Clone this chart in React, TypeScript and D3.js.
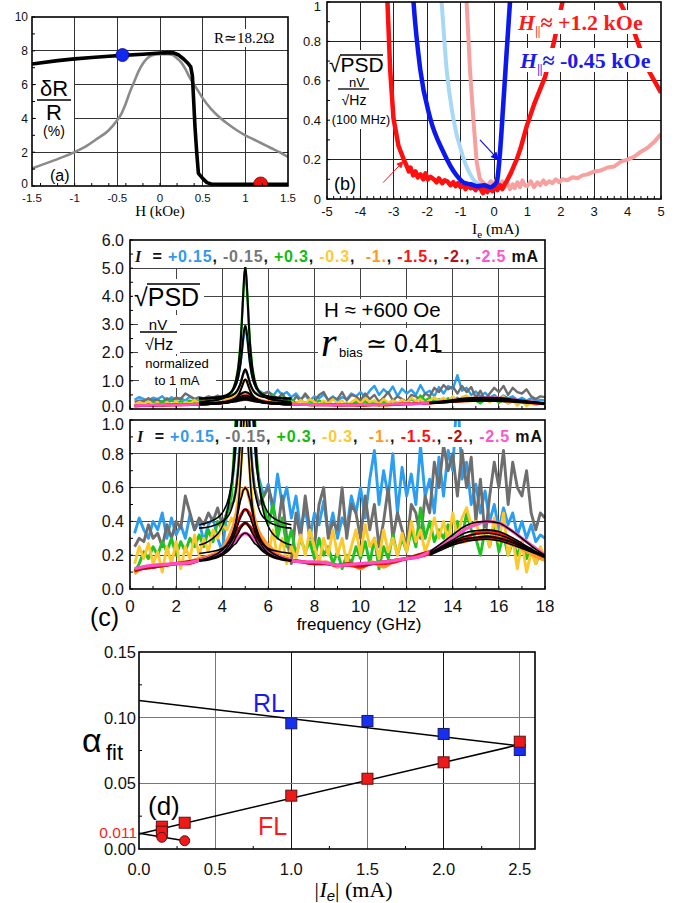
import React from 'react';
import * as d3 from 'd3';

const SANS = "'Liberation Sans', Arial, Helvetica, sans-serif";
const SERIF = "'Liberation Serif', 'Times New Roman', Times, serif";

// ================= Panel (a): dR/R (%) vs H (kOe) =================
const aXTicks = [-1.5, -1, -0.5, 0, 0.5, 1, 1.5];
const aYTicks = [0, 2, 4, 6, 8, 10];
const aBlack = [[-1.5, 7.22], [-1.2, 7.42], [-1.0, 7.52], [-0.8, 7.6], [-0.6, 7.68], [-0.44, 7.73], [-0.2, 7.8], [0, 7.87], [0.1, 7.89], [0.16, 7.88], [0.22, 7.75], [0.28, 7.5], [0.33, 7.25], [0.36, 7.05], [0.38, 6.5], [0.39, 5.5], [0.41, 3.5], [0.43, 2.0], [0.45, 0.75], [0.5, 0.45], [0.55, 0.2], [0.6, 0.12], [0.8, 0.1], [1.0, 0.1], [1.5, 0.1]];
const aGray = [[-1.5, 1.04], [-1.25, 1.5], [-1.0, 2.0], [-0.85, 2.4], [-0.75, 2.75], [-0.6, 3.3], [-0.5, 3.9], [-0.45, 4.3], [-0.4, 4.9], [-0.35, 5.6], [-0.3, 6.2], [-0.25, 6.8], [-0.2, 7.25], [-0.15, 7.55], [-0.1, 7.72], [0, 7.8], [0.1, 7.8], [0.15, 7.75], [0.2, 7.55], [0.25, 7.3], [0.3, 6.9], [0.35, 6.4], [0.4, 6.0], [0.45, 5.6], [0.5, 5.2], [0.6, 4.55], [0.7, 4.05], [0.8, 3.65], [0.9, 3.3], [1.0, 3.0], [1.1, 2.75], [1.2, 2.5], [1.3, 2.25], [1.4, 2.0], [1.5, 1.72]];
const aBlueDot = [-0.44, 7.75];
const aRedDot = [1.18, 0.12];

// ================= Panel (b): sqrt(PSD) vs Ie =================
const bXTicks = [-5, -4, -3, -2, -1, 0, 1, 2, 3, 4, 5];
const bYTicks = [0, 0.2, 0.4, 0.6, 0.8, 1];
const bPink = [[-0.85, 1.1], [-0.82, 1.0], [-0.72, 0.66], [-0.62, 0.41], [-0.52, 0.19], [-0.42, 0.1], [-0.3, 0.08], [-0.2, 0.065], [-0.1, 0.09], [0, 0.075], [0.08, 0.1], [0.15, 0.07], [0.25, 0.09], [0.32, 0.06], [0.4, 0.08], [0.48, 0.05], [0.56, 0.075], [0.62, 0.055], [0.7, 0.085], [0.78, 0.06], [0.85, 0.095], [0.92, 0.07], [1.0, 0.065], [1.1, 0.09], [1.2, 0.06], [1.3, 0.085], [1.38, 0.07], [1.48, 0.095], [1.55, 0.075], [1.65, 0.09], [1.75, 0.08], [1.85, 0.1], [1.95, 0.085], [2.05, 0.1], [2.2, 0.095], [2.35, 0.11], [2.5, 0.105], [2.65, 0.12], [2.8, 0.125], [3.0, 0.14], [3.2, 0.145], [3.4, 0.16], [3.6, 0.165], [3.8, 0.19], [4.0, 0.2], [4.2, 0.215], [4.4, 0.24], [4.6, 0.26], [4.8, 0.29], [5.0, 0.33]];
const bLightBlue = [[-1.62, 1.1], [-1.57, 1.0], [-1.42, 0.66], [-1.22, 0.41], [-0.92, 0.21], [-0.62, 0.1], [-0.4, 0.07], [-0.2, 0.06], [0, 0.06], [0.1, 0.08], [0.2, 0.25], [0.3, 0.5], [0.4, 0.8], [0.46, 1.0], [0.5, 1.1]];
const bRed = [[-3.25, 1.1], [-3.19, 1.0], [-3.11, 0.66], [-3.01, 0.41], [-2.86, 0.27], [-2.7, 0.2], [-2.62, 0.17], [-2.55, 0.14], [-2.5, 0.16], [-2.42, 0.12], [-2.35, 0.14], [-2.28, 0.11], [-2.2, 0.125], [-2.12, 0.1], [-2.05, 0.13], [-1.98, 0.1], [-1.9, 0.112], [-1.8, 0.1], [-1.72, 0.085], [-1.65, 0.105], [-1.55, 0.08], [-1.48, 0.095], [-1.4, 0.09], [-1.3, 0.07], [-1.22, 0.085], [-1.15, 0.065], [-1.08, 0.08], [-1.0, 0.06], [-0.92, 0.07], [-0.85, 0.05], [-0.78, 0.075], [-0.7, 0.055], [-0.62, 0.06], [-0.55, 0.045], [-0.48, 0.065], [-0.4, 0.05], [-0.33, 0.03], [-0.26, 0.06], [-0.2, 0.035], [-0.12, 0.055], [-0.05, 0.04], [0.02, 0.065], [0.1, 0.045], [0.18, 0.07], [0.25, 0.05], [0.32, 0.075], [0.38, 0.09], [0.5, 0.13], [0.6, 0.17], [0.68, 0.2], [0.8, 0.26], [0.98, 0.37], [1.2, 0.48], [1.53, 0.62], [1.8, 0.8], [2.05, 1.0], [2.5, 1.3], [3.0, 1.4], [3.5, 1.2], [3.77, 1.0], [4.17, 0.86], [4.57, 0.67], [5.0, 0.54]];
const bBlue = [[-2.45, 1.1], [-2.41, 1.0], [-2.21, 0.66], [-1.91, 0.41], [-1.52, 0.24], [-1.12, 0.12], [-0.87, 0.08], [-0.7, 0.075], [-0.5, 0.065], [-0.3, 0.07], [-0.1, 0.06], [0, 0.07], [0.08, 0.085], [0.18, 0.24], [0.28, 0.49], [0.38, 0.75], [0.48, 1.0], [0.52, 1.1]];
const bRedArrow = [[-3.32, 0.083], [-2.72, 0.19]];
const bBlueArrow = [[-0.42, 0.3], [0.13, 0.2]];

// ================= Panel (c): sqrt(PSD) spectra =================
const cXTicks = [0, 2, 4, 6, 8, 10, 12, 14, 16, 18];
const cYTicksTop = [0, 1, 2, 3, 4, 5, 6];
const cYTicksBot = [0, 0.2, 0.4, 0.6, 0.8, 1.0];
const freqN = [0.2, 0.4, 0.6, 0.8, 1.0, 1.2, 1.4, 1.6, 1.8, 2.0, 2.2, 2.4, 2.6, 2.8, 3.0, 3.2, 3.4, 3.6, 3.8, 4.0, 4.2, 4.4, 4.5, 4.6, 4.7, 4.8, 4.9, 5.0, 5.1, 5.2, 5.3, 5.4, 5.5, 5.6, 5.8, 6.0, 6.2, 6.4, 6.6, 6.8, 7.0, 7.2, 7.4, 7.6, 7.8, 8.0, 8.2, 8.4, 8.6, 8.8, 9.0, 9.2, 9.4, 9.6, 9.8, 10.0, 10.2, 10.4, 10.6, 10.8, 11.0, 11.2, 11.4, 11.6, 11.8, 12.0, 12.2, 12.4, 12.6, 12.8, 13.0, 13.2, 13.4, 13.6, 13.8, 14.0, 14.2, 14.4, 14.6, 14.8, 15.0, 15.2, 15.4, 15.6, 15.8, 16.0, 16.2, 16.4, 16.6, 16.8, 17.0, 17.2, 17.4, 17.6, 17.8, 18.0];
const psdP015 = [0.33, 0.42, 0.35, 0.3, 0.4, 0.35, 0.45, 0.3, 0.42, 0.32, 0.38, 0.3, 0.44, 0.35, 0.4, 0.28, 0.38, 0.42, 0.3, 0.22, 0.45, 0.6,
  0.72, 0.88, 1.15, 1.65, 2.4, 2.95, 2.45, 1.65, 1.15, 0.9, 0.72, 0.65,
  0.55, 0.62, 0.45, 0.68, 0.5, 0.6, 0.42, 0.55, 0.35, 0.48, 0.3, 0.45, 0.38, 0.52, 0.32, 0.45, 0.3, 0.42, 0.35, 0.55,
  0.45, 0.6, 0.42, 0.65, 0.82, 0.5, 0.7, 0.55, 0.8, 0.45, 0.72, 0.55, 0.68, 0.5, 0.85, 0.55, 0.65, 0.45, 0.78, 0.55,
  0.82, 0.7, 1.2, 0.65, 0.75, 0.5, 0.62, 0.45, 0.58, 0.4, 0.5, 0.35, 0.48, 0.38, 0.45, 0.32, 0.4, 0.3, 0.38, 0.28, 0.32, 0.3];
const psdM015 = [0.25, 0.3, 0.28, 0.38, 0.3, 0.33, 0.25, 0.38, 0.3, 0.4, 0.36, 0.55, 0.45, 0.35, 0.42, 0.38, 0.45, 0.4, 0.48, 0.38, 0.45, 0.5,
  0.52, 0.59, 0.72, 0.92, 1.22, 1.4, 1.22, 0.92, 0.72, 0.6, 0.55, 0.5,
  0.55, 0.6, 0.5, 0.35, 0.55, 0.3, 0.15, 0.45, 0.3, 0.55, 0.35, 0.25, 0.5, 0.6, 0.3, 0.4, 0.35, 0.6, 0.3, 0.5,
  0.45, 0.3, 0.55, 0.35, 0.5, 0.25, 0.4, 0.6, 0.3, 0.45, 0.35, 0.25, 0.5, 0.45, 0.3, 0.55, 0.45, 0.75, 0.6, 0.85,
  0.7, 0.8, 0.55, 0.82, 0.6, 0.78, 0.4, 0.65, 0.3, 0.55, 0.75, 0.6, 0.82, 0.5, 0.75, 0.6, 0.55, 0.7, 0.45, 0.35, 0.45, 0.42];
const psdP03 = [0.1, 0.15, 0.22, 0.18, 0.25, 0.2, 0.28, 0.22, 0.3, 0.2, 0.28, 0.22, 0.3, 0.25, 0.32, 0.25, 0.35, 0.28, 0.4, 0.35, 0.45, 0.55,
  0.77, 1.03, 1.5, 2.38, 3.91, 5.05, 3.91, 2.38, 1.5, 1.03, 0.77, 0.62,
  0.5, 0.38, 0.5, 0.3, 0.42, 0.25, 0.35, 0.2, 0.3, 0.22, 0.28, 0.18, 0.3, 0.2, 0.25, 0.15, 0.22, 0.12, 0.2, 0.15,
  0.25, 0.18, 0.28, 0.15, 0.3, 0.12, 0.25, 0.18, 0.32, 0.2, 0.3, 0.22, 0.35, 0.25, 0.48, 0.3, 0.4, 0.28, 0.35, 0.3,
  0.38, 0.25, 0.4, 0.3, 0.45, 0.35, 0.3, 0.2, 0.35, 0.25, 0.38, 0.22, 0.32, 0.2, 0.28, 0.2, 0.28, 0.18, 0.24, 0.15, 0.22, 0.18];
const psdM03 = [0.15, 0.25, 0.18, 0.27, 0.15, 0.22, 0.1, 0.25, 0.15, 0.28, 0.12, 0.25, 0.18, 0.32, 0.2, 0.3, 0.22, 0.35, 0.3, 0.38, 0.35, 0.42,
  0.4, 0.45, 0.55, 0.7, 0.9, 1.05, 0.9, 0.68, 0.52, 0.42, 0.36, 0.32,
  0.3, 0.2, 0.35, 0.18, 0.3, 0.15, 0.25, 0.18, 0.32, 0.2, 0.35, 0.25, 0.15, 0.3, 0.2, 0.35, 0.2, 0.3, 0.15, 0.25,
  0.35, 0.2, 0.38, 0.25, 0.3, 0.18, 0.35, 0.22, 0.3, 0.2, 0.33, 0.22, 0.4, 0.28, 0.35, 0.22, 0.3, 0.42, 0.3, 0.4,
  0.28, 0.45, 0.3, 0.42, 0.48, 0.38, 0.4, 0.3, 0.35, 0.25, 0.42, 0.28, 0.45, 0.2, 0.3, 0.12, 0.28, 0.1, 0.22, 0.15, 0.25, 0.18];
const freqS = [0.2, 0.5, 1, 1.5, 2, 2.5, 3, 3.5, 4, 4.25, 4.5, 4.75, 5, 5.25, 5.5, 5.75, 6, 6.5, 7, 7.5, 8, 8.5, 9, 9.5, 10, 10.5, 11, 11.5, 12, 12.5, 13, 13.5, 14, 14.5, 15, 15.5, 16, 16.5, 17, 17.5, 18];
const psdM1 = [0.09, 0.12, 0.13, 0.14, 0.15, 0.16, 0.18, 0.2, 0.24, 0.3, 0.38, 0.52, 0.6, 0.5, 0.37, 0.3, 0.26, 0.2, 0.17, 0.16, 0.15, 0.16, 0.13, 0.15, 0.12, 0.16, 0.13, 0.17, 0.18, 0.2, 0.22, 0.24, 0.27, 0.28, 0.3, 0.31, 0.3, 0.27, 0.24, 0.2, 0.17];
const psdM15 = [0.11, 0.12, 0.13, 0.14, 0.15, 0.15, 0.17, 0.19, 0.22, 0.27, 0.33, 0.42, 0.47, 0.43, 0.33, 0.27, 0.23, 0.19, 0.17, 0.16, 0.15, 0.15, 0.14, 0.14, 0.13, 0.15, 0.15, 0.16, 0.18, 0.19, 0.21, 0.24, 0.27, 0.3, 0.33, 0.34, 0.33, 0.3, 0.26, 0.22, 0.19];
const psdM2 = [0.11, 0.12, 0.13, 0.14, 0.15, 0.16, 0.17, 0.19, 0.22, 0.26, 0.31, 0.36, 0.39, 0.36, 0.3, 0.26, 0.22, 0.19, 0.17, 0.16, 0.15, 0.15, 0.14, 0.15, 0.14, 0.15, 0.16, 0.17, 0.18, 0.2, 0.22, 0.24, 0.27, 0.29, 0.3, 0.31, 0.3, 0.28, 0.25, 0.22, 0.19];
const psdM25 = [0.12, 0.13, 0.14, 0.145, 0.15, 0.155, 0.17, 0.19, 0.22, 0.25, 0.28, 0.31, 0.33, 0.31, 0.28, 0.25, 0.22, 0.19, 0.17, 0.16, 0.16, 0.155, 0.14, 0.145, 0.15, 0.155, 0.16, 0.17, 0.18, 0.19, 0.22, 0.26, 0.3, 0.35, 0.38, 0.4, 0.39, 0.35, 0.3, 0.25, 0.2];
// Lorentzian fits
const fitF5 = [3, 3.5, 4, 4.3, 4.5, 4.6, 4.7, 4.8, 4.85, 4.9, 4.95, 5, 5.05, 5.1, 5.15, 5.2, 5.3, 5.4, 5.5, 5.7, 6, 6.5, 7];
const fit5P03 = [0.26, 0.29, 0.37, 0.52, 0.77, 1.03, 1.5, 2.38, 3.07, 3.91, 4.7, 5.05, 4.7, 3.91, 3.07, 2.38, 1.5, 1.03, 0.77, 0.52, 0.37, 0.29, 0.26];
const fit5P015 = [0.38, 0.4, 0.45, 0.55, 0.71, 0.87, 1.15, 1.65, 2.01, 2.43, 2.8, 2.95, 2.8, 2.43, 2.01, 1.65, 1.15, 0.87, 0.71, 0.55, 0.45, 0.4, 0.38];
const fit5M015 = [0.36, 0.37, 0.4, 0.44, 0.52, 0.59, 0.72, 0.92, 1.07, 1.22, 1.35, 1.4, 1.35, 1.22, 1.07, 0.92, 0.72, 0.59, 0.52, 0.44, 0.4, 0.37, 0.36];
const fit5M03 = [0.21, 0.22, 0.24, 0.28, 0.34, 0.4, 0.5, 0.67, 0.78, 0.9, 1.01, 1.05, 1.01, 0.9, 0.78, 0.67, 0.5, 0.4, 0.34, 0.28, 0.24, 0.22, 0.21];
const fit5M1 = [0.17, 0.19, 0.23, 0.28, 0.35, 0.4, 0.46, 0.53, 0.55, 0.58, 0.59, 0.6, 0.59, 0.58, 0.55, 0.53, 0.46, 0.4, 0.35, 0.28, 0.23, 0.19, 0.17];
const fit5M15 = [0.17, 0.18, 0.21, 0.26, 0.31, 0.35, 0.39, 0.43, 0.44, 0.46, 0.47, 0.47, 0.47, 0.46, 0.44, 0.43, 0.39, 0.35, 0.31, 0.26, 0.21, 0.18, 0.17];
const fit5M2 = [0.17, 0.18, 0.21, 0.24, 0.28, 0.31, 0.33, 0.36, 0.37, 0.38, 0.39, 0.39, 0.39, 0.38, 0.37, 0.36, 0.33, 0.31, 0.28, 0.24, 0.21, 0.18, 0.17];
const fit5M25 = [0.165, 0.175, 0.2, 0.23, 0.26, 0.27, 0.29, 0.31, 0.32, 0.325, 0.33, 0.33, 0.33, 0.325, 0.32, 0.31, 0.29, 0.27, 0.26, 0.23, 0.2, 0.175, 0.165];
const fitF15 = [13, 13.5, 14, 14.5, 15, 15.5, 16, 16.5, 17, 17.5, 18];
const fit15M25 = [0.22, 0.27, 0.32, 0.37, 0.395, 0.4, 0.39, 0.35, 0.3, 0.245, 0.2];
const fit15M15 = [0.21, 0.25, 0.29, 0.33, 0.345, 0.35, 0.34, 0.31, 0.27, 0.23, 0.195];
const fit15M2 = [0.21, 0.245, 0.28, 0.31, 0.325, 0.33, 0.32, 0.295, 0.26, 0.225, 0.19];
const fit15M1 = [0.205, 0.24, 0.27, 0.295, 0.305, 0.31, 0.3, 0.28, 0.25, 0.22, 0.19];
const fit15M03 = [0.2, 0.23, 0.26, 0.28, 0.29, 0.295, 0.285, 0.265, 0.24, 0.215, 0.19];
const legendLabels = ['+0.15', '-0.15', '+0.3', '-0.3', '-1.', '-1.5.', '-2.', '-2.5'];

// ================= Panel (d): alpha_fit vs |Ie| =================
const dXTicks = [0, 0.5, 1.0, 1.5, 2.0, 2.5];
const dXMinor = [0.25, 0.75, 1.25, 1.75, 2.25];
const dYTicks = [0, 0.05, 0.1, 0.15];
const dYMinor = [0.025, 0.075, 0.125];
const rlI = [1.0, 1.5, 2.0, 2.5];
const rlAlpha = [0.0957, 0.0975, 0.0876, 0.0754];
const flI = [0.15, 0.15, 0.3, 1.0, 1.5, 2.0, 2.5];
const flAlpha = [0.017, 0.0132, 0.02, 0.0406, 0.0535, 0.066, 0.0817];
const circI = [0.15, 0.3];
const circAlpha = [0.0089, 0.0063];
const rlFit = [[0, 0.113], [2.5, 0.0785]];
const flFit = [[0, 0.0115], [2.5, 0.0795]];
const circFit = [[0, 0.012], [0.3, 0.0063]];

const COL = {
  p015: '#2c9ef2', m015: '#6e6e6e', p03: '#1fc21f', m03: '#fdc82e',
  m1: '#ff9a28', m15: '#ff1414', m2: '#b20f0f', m25: '#ff4fc2',
};
const legendColors = ['#3399ee', '#777777', '#11bb11', '#ffc933', '#ff9922', '#ff1111', '#b81111', '#ff55cc'];

type Sc = d3.ScaleLinear<number, number>;

function Grid({ x, y, xs, ys, top, color = '#444' }: { x: Sc; y: Sc; xs: number[]; ys: number[]; top?: number; color?: string }) {
  const [x0, x1] = x.range();
  const [y0, y1] = y.range();
  const t = top ?? y1;
  return (
    <g shapeRendering="crispEdges">
      {xs.map((v) => <line key={'gx' + v} x1={x(v)} x2={x(v)} y1={y0} y2={t} stroke={color} strokeWidth={1} />)}
      {ys.map((v) => <line key={'gy' + v} x1={x0} x2={x1} y1={y(v)} y2={y(v)} stroke={color} strokeWidth={1} />)}
    </g>
  );
}

function Border({ x, y, xMinor = [], yMinor = [] }: { x: Sc; y: Sc; xMinor?: number[]; yMinor?: number[] }) {
  const [x0, x1] = x.range();
  const [y0, y1] = y.range();
  return (
    <g>
      {xMinor.map((v) => <line key={'mx' + v} x1={x(v)} x2={x(v)} y1={y0} y2={y0 - 3} stroke="#000" />)}
      {yMinor.map((v) => <line key={'my' + v} x1={x0} x2={x0 + 3} y1={y(v)} y2={y(v)} stroke="#000" />)}
      <rect x={x0} y={y1} width={x1 - x0} height={y0 - y1} fill="none" stroke="#000" strokeWidth={1.6} />
    </g>
  );
}

function XLabels({ x, ticks, yPos, fs, fmt }: { x: Sc; ticks: number[]; yPos: number; fs: number; fmt: (v: number) => string }) {
  return (
    <g fontFamily={SANS} fontSize={fs} textAnchor="middle" fill="#111">
      {ticks.map((v) => <text key={'xl' + v} x={x(v)} y={yPos}>{fmt(v)}</text>)}
    </g>
  );
}

function YLabels({ y, ticks, xPos, fs, fmt, topShift = 0, bottomShift = 0 }: { y: Sc; ticks: number[]; xPos: number; fs: number; fmt: (v: number) => string; topShift?: number; bottomShift?: number }) {
  const top = d3.max(ticks) as number;
  const bot = d3.min(ticks) as number;
  return (
    <g fontFamily={SANS} fontSize={fs} textAnchor="end" fill="#111">
      {ticks.map((v) => (
        <text key={'yl' + v} x={xPos} y={y(v) + (v === top ? topShift : 0) + (v === bot ? bottomShift : 0)} dy="0.36em">{fmt(v)}</text>
      ))}
    </g>
  );
}

function Legend({ x, y, len }: { x: number; y: number; len: number }) {
  const parts: React.ReactNode[] = [];
  legendLabels.forEach((t, i) => {
    parts.push(<tspan key={'l' + i} fill={legendColors[i]}>{t}</tspan>);
    if (i < legendLabels.length - 1) parts.push(<tspan key={'c' + i} fill="#111">{i === 3 ? ',  ' : ', '}</tspan>);
  });
  return (
    <g>
      <rect x={x - 3} y={y - 15} width={len + 7} height={20} fill="#fff" />
      <text x={x} y={y} fontFamily={SANS} fontWeight="bold" fontSize={16} textLength={len} lengthAdjust="spacing" style={{ whiteSpace: 'pre' }}>
        <tspan fontFamily={SERIF} fontStyle="italic" fill="#111">I</tspan>
        <tspan fill="#111">{'  = '}</tspan>
        {parts}
        <tspan fill="#111">{' mA'}</tspan>
      </text>
    </g>
  );
}

export default function App() {
  const xA = d3.scaleLinear().domain([-1.5, 1.5]).range([32, 288]);
  const yA = d3.scaleLinear().domain([0, 10]).range([186, 17]);
  const xB = d3.scaleLinear().domain([-5, 5]).range([327, 661]);
  const yB = d3.scaleLinear().domain([0, 1]).range([199, 2]);
  const xC = d3.scaleLinear().domain([0, 18]).range([130, 545]);
  const yC1 = d3.scaleLinear().domain([0, 6]).range([409, 240]);
  const yC2 = d3.scaleLinear().domain([0, 1]).range([589, 420]);
  const xD = d3.scaleLinear().domain([0, 2.6]).range([139, 535]);
  const yD = d3.scaleLinear().domain([0, 0.15]).range([849, 652]);

  const mk = (x: Sc, y: Sc, curve: d3.CurveFactory = d3.curveLinear) =>
    d3.line<number[]>().x((d) => x(d[0])).y((d) => y(d[1])).curve(curve);

  const noisy = [
    { v: psdP015, c: COL.p015 },
    { v: psdM015, c: COL.m015 },
    { v: psdP03, c: COL.p03 },
    { v: psdM03, c: COL.m03 },
  ];
  const smooth = [
    { v: psdM1, c: COL.m1 },
    { v: psdM15, c: COL.m15 },
    { v: psdM2, c: COL.m2 },
    { v: psdM25, c: COL.m25 },
  ];
  const fits5 = [fit5P03, fit5P015, fit5M015, fit5M03, fit5M1, fit5M15, fit5M2, fit5M25];
  const fits15 = [fit15M25, fit15M15, fit15M2, fit15M1, fit15M03];

  const fmt1 = d3.format('.1f');
  const fmt2 = d3.format('.2f');

  const cPanel = (y: Sc, clip: string, fitW: number, lw: number) => {
    const ln = mk(xC, y);
    const ls = mk(xC, y, d3.curveMonotoneX);
    return (
      <g clipPath={`url(#${clip})`}>
        {noisy.map((s, i) => (
          <path key={'n' + i} d={ln(d3.zip(freqN, s.v)) || ''} fill="none" stroke={s.c} strokeWidth={lw} strokeLinejoin="round" />
        ))}
        {smooth.map((s, i) => (
          <path key={'s' + i} d={ls(d3.zip(freqS, s.v)) || ''} fill="none" stroke={s.c} strokeWidth={lw + 0.4} strokeLinejoin="round" />
        ))}
        {fits5.map((f, i) => (
          <path key={'f5' + i} d={ls(d3.zip(fitF5, f)) || ''} fill="none" stroke="#000" strokeWidth={fitW} />
        ))}
        {fits15.map((f, i) => (
          <path key={'f15' + i} d={ls(d3.zip(fitF15, f)) || ''} fill="none" stroke="#000" strokeWidth={fitW} />
        ))}
      </g>
    );
  };

  const lineA = mk(xA, yA);
  const lineAs = mk(xA, yA, d3.curveMonotoneX);
  const lineB = mk(xB, yB);
  const lineBs = mk(xB, yB, d3.curveMonotoneX);
  const lineD = mk(xD, yD);

  return (
    <svg width={683} height={903} viewBox="0 0 683 903" style={{ position: 'absolute', left: 0, top: 0, background: '#fff' }}>
      <defs>
        <clipPath id="clipA"><rect x={32} y={17} width={256} height={169} /></clipPath>
        <clipPath id="clipB"><rect x={327} y={2} width={334} height={197} /></clipPath>
        <clipPath id="clipC1"><rect x={130} y={240} width={415} height={169} /></clipPath>
        <clipPath id="clipC2"><rect x={130} y={420} width={415} height={169} /></clipPath>
        <marker id="arrRed" viewBox="0 0 10 10" refX={9} refY={5} markerUnits="userSpaceOnUse" markerWidth={9} markerHeight={7} orient="auto">
          <path d="M0,0L10,5L0,10z" fill="#ff1a1a" />
        </marker>
        <marker id="arrBlue" viewBox="0 0 10 10" refX={9} refY={5} markerUnits="userSpaceOnUse" markerWidth={11} markerHeight={8} orient="auto">
          <path d="M0,0L10,5L0,10z" fill="#1010ee" />
        </marker>
      </defs>
      <rect x={0} y={0} width={683} height={903} fill="#fff" />

      {/* ================= (a) ================= */}
      <Grid x={xA} y={yA} xs={[-1, -0.5, 0, 0.5, 1]} ys={[2, 4, 6, 8]} color="#333" />
      <rect x={36} y={78} width={38} height={61} fill="#fff" />
      <rect x={210} y={29} width={73} height={18} fill="#fff" />
      <g clipPath="url(#clipA)">
        <path d={lineAs(aGray) || ''} fill="none" stroke="#8a8a8a" strokeWidth={2.6} />
        <path d={lineA(aBlack) || ''} fill="none" stroke="#000" strokeWidth={3.6} strokeLinejoin="round" />
        <circle cx={xA(aBlueDot[0])} cy={yA(aBlueDot[1])} r={6.5} fill="#1426f2" stroke="#0a0a80" strokeWidth={0.8} />
        <circle cx={xA(aRedDot[0])} cy={yA(aRedDot[1])} r={7} fill="#ee1111" stroke="#800" strokeWidth={0.8} />
      </g>
      <Border x={xA} y={yA} xMinor={xA.ticks(12)} yMinor={yA.ticks(10)} />
      <YLabels y={yA} ticks={aYTicks} xPos={28} fs={12} fmt={(v) => String(v)} bottomShift={-2} />
      <XLabels x={xA} ticks={aXTicks} yPos={202} fs={11.5} fmt={(v) => String(v)} />
      <text x={160} y={216} textAnchor="middle" fontFamily={SERIF} fontSize={15}>H (kOe)</text>
      <text x={214} y={43} fontFamily={SERIF} fontSize={15}>R≃18.2Ω</text>
      <text x={54} y={96} textAnchor="middle" fontFamily={SANS} fontSize={22}>δR</text>
      <line x1={37} x2={71} y1={100} y2={100} stroke="#000" strokeWidth={1.5} />
      <text x={54} y={120} textAnchor="middle" fontFamily={SANS} fontSize={22}>R</text>
      <text x={54} y={136} textAnchor="middle" fontFamily={SANS} fontSize={14}>(%)</text>
      <text x={50} y={181} fontFamily={SANS} fontSize={16}>(a)</text>

      {/* ================= (b) ================= */}
      <Grid x={xB} y={yB} xs={[-4, -3, -2, -1, 0, 1, 2, 3, 4]} ys={[0.2, 0.4, 0.6, 0.8]} color="#222" />
      <rect x={328} y={50} width={64} height={79} fill="#fff" />
      <text x={329} y={72} fontFamily={SANS} fontSize={21}>√PSD</text>
      <line x1={340} x2={383} y1={55} y2={55} stroke="#000" strokeWidth={1.5} />
      <text x={357} y={87} textAnchor="middle" fontFamily={SANS} fontSize={13}>nV</text>
      <line x1={338} x2={369} y1={89} y2={89} stroke="#000" strokeWidth={1.3} />
      <text x={354} y={105} textAnchor="middle" fontFamily={SANS} fontSize={14}>√Hz</text>
      <text x={361} y={124} textAnchor="middle" fontFamily={SANS} fontSize={12.5}>(100 MHz)</text>
      <g clipPath="url(#clipB)">
        <path d={lineB(bPink) || ''} fill="none" stroke="#f7a0a0" strokeWidth={4} strokeLinejoin="round" />
        <path d={lineBs(bLightBlue) || ''} fill="none" stroke="#a8d8f6" strokeWidth={4} />
        <path d={lineB(bRed) || ''} fill="none" stroke="#ff1010" strokeWidth={4.5} strokeLinejoin="round" />
        <path d={lineBs(bBlue) || ''} fill="none" stroke="#0c18ee" strokeWidth={4.5} />
      </g>
      <line x1={xB(bRedArrow[0][0])} y1={yB(bRedArrow[0][1])} x2={xB(bRedArrow[1][0])} y2={yB(bRedArrow[1][1])} stroke="#ff1a1a" strokeWidth={1} markerEnd="url(#arrRed)" />
      <line x1={xB(bBlueArrow[0][0])} y1={yB(bBlueArrow[0][1])} x2={xB(bBlueArrow[1][0])} y2={yB(bBlueArrow[1][1])} stroke="#1010ee" strokeWidth={1.2} markerEnd="url(#arrBlue)" />
      <rect x={514} y={10} width={140} height={24} fill="#fff" />
      <rect x={516} y={48} width={142} height={24} fill="#fff" />
      <text x={518} y={30} fontFamily={SERIF} fontWeight="bold" fontSize={22} fill="#ff1a1a">
        <tspan fontStyle="italic">H</tspan><tspan fontSize={12} dy={5}>||</tspan><tspan dy={-5}>≈ +1.2 kOe</tspan>
      </text>
      <text x={520} y={68} fontFamily={SERIF} fontWeight="bold" fontSize={22} fill="#1a1aee">
        <tspan fontStyle="italic">H</tspan><tspan fontSize={12} dy={5}>||</tspan><tspan dy={-5}>≈ -0.45 kOe</tspan>
      </text>
      <Border x={xB} y={yB} xMinor={xB.ticks(50)} yMinor={yB.ticks(10)} />
      <YLabels y={yB} ticks={bYTicks} xPos={321} fs={13} fmt={(v) => String(v)} topShift={4} />
      <XLabels x={xB} ticks={bXTicks} yPos={216} fs={13} fmt={(v) => String(v)} />
      <text x={334} y={190} fontFamily={SANS} fontSize={18}>(b)</text>
      <text x={472} y={234} fontFamily={SERIF} fontSize={15.5}>
        <tspan>I</tspan><tspan fontSize={11} dy={4}>e</tspan><tspan dy={-4}> (mA)</tspan>
      </text>

      {/* ================= (c) top ================= */}
      <Grid x={xC} y={yC1} xs={[2, 4, 6, 8, 10, 12, 14, 16]} ys={[1, 2, 3, 4, 5]} top={yC1(5)} color="#444" />
      <rect x={132} y={279} width={72} height={31} fill="#fff" />
      <rect x={138} y={315} width={42} height={39} fill="#fff" />
      <rect x={139} y={356} width={77} height={32} fill="#fff" />
      <rect x={320} y={299} width={128} height={23} fill="#fff" />
      <rect x={318} y={328} width={118} height={32} fill="#fff" />
      <text x={134} y={306} fontFamily={SANS} fontSize={25}>√PSD</text>
      <line x1={147} x2={200} y1={284} y2={284} stroke="#000" strokeWidth={1.6} />
      <text x={158} y={330} textAnchor="middle" fontFamily={SANS} fontSize={15}>nV</text>
      <line x1={140} x2={177} y1={332} y2={332} stroke="#000" strokeWidth={1.5} />
      <text x={145} y={350} fontFamily={SANS} fontSize={16}>√Hz</text>
      <text x={177} y={368} textAnchor="middle" fontFamily={SANS} fontSize={13}>normalized</text>
      <text x={177} y={385} textAnchor="middle" fontFamily={SANS} fontSize={13}>to 1 mA</text>
      <text x={324} y={317} fontFamily={SANS} fontSize={20.5}>H ≈ +600 Oe</text>
      <text x={321} y={356} fontFamily={SERIF} fontStyle="italic" fontSize={40}>r</text>
      <text x={339} y={357} fontFamily={SANS} fontSize={13}>bias</text>
      <text x={366} y={352} fontFamily={SANS} fontSize={25}>≃ 0.41</text>
      {cPanel(yC1, 'clipC1', 2, 2.4)}
      <Legend x={135} y={262} len={403} />
      <Border x={xC} y={yC1} xMinor={xC.ticks(18)} yMinor={yC1.ticks(12)} />
      <YLabels y={yC1} ticks={cYTicksTop} xPos={124} fs={16} fmt={fmt1} bottomShift={-3} />

      {/* ================= (c) bottom ================= */}
      <Grid x={xC} y={yC2} xs={[2, 4, 6, 8, 10, 12, 14, 16]} ys={[0.2, 0.4, 0.6, 0.8]} top={yC2(0.8)} color="#444" />
      {cPanel(yC2, 'clipC2', 1.6, 2.9)}
      <Legend x={137} y={442} len={405} />
      <Border x={xC} y={yC2} xMinor={xC.ticks(18)} yMinor={yC2.ticks(10)} />
      <YLabels y={yC2} ticks={cYTicksBot.slice(0, 5)} xPos={124} fs={16} fmt={fmt1} />
      <text x={124} y={430} textAnchor="end" fontFamily={SANS} fontSize={16} fill="#111">{fmt1(cYTicksBot[5])}</text>
      <XLabels x={xC} ticks={cXTicks} yPos={612} fs={17} fmt={(v) => String(v)} />
      <text x={359} y={630} textAnchor="middle" fontFamily={SANS} fontSize={17}>frequency (GHz)</text>
      <text x={90} y={626} fontFamily={SANS} fontSize={25}>(c)</text>

      {/* ================= (d) ================= */}
      <g shapeRendering="crispEdges">
        {[0.5, 1.5, 2.5].map((v) => <line key={'dg' + v} x1={xD(v)} x2={xD(v)} y1={849} y2={652} stroke="#777" />)}
        {[1.0, 2.0].map((v) => <line key={'dk' + v} x1={xD(v)} x2={xD(v)} y1={849} y2={652} stroke="#111" />)}
        {[0.05, 0.1].map((v) => <line key={'dh' + v} x1={139} x2={535} y1={yD(v)} y2={yD(v)} stroke="#777" />)}
      </g>
      <path d={lineD(rlFit) || ''} fill="none" stroke="#000" strokeWidth={1.5} />
      <path d={lineD(flFit) || ''} fill="none" stroke="#000" strokeWidth={1.5} />
      <path d={lineD(circFit) || ''} fill="none" stroke="#000" strokeWidth={1.5} />
      {rlI.map((v, i) => (
        <rect key={'rl' + i} x={xD(v) - 5.5} y={yD(rlAlpha[i]) - 5.5} width={11} height={11} fill="#1530f0" stroke="#1a1a60" strokeWidth={1} />
      ))}
      {flI.map((v, i) => (
        <rect key={'fl' + i} x={xD(v) - 5.5} y={yD(flAlpha[i]) - 5.5} width={11} height={11} fill="#ee1a1a" stroke="#601010" strokeWidth={1} />
      ))}
      {circI.map((v, i) => (
        <circle key={'ci' + i} cx={xD(v)} cy={yD(circAlpha[i])} r={5} fill="#ee1a1a" stroke="#601010" strokeWidth={1} />
      ))}
      <Border x={xD} y={yD} xMinor={dXMinor} yMinor={dYMinor} />
      <YLabels y={yD} ticks={dYTicks} xPos={136} fs={16.5} fmt={fmt2} />
      <XLabels x={xD} ticks={dXTicks} yPos={875} fs={16.5} fmt={fmt1} />
      <text x={137} y={838} textAnchor="end" fontFamily={SANS} fontSize={15.5} fill="#ff1a1a">0.011</text>
      <text x={253} y={712} fontFamily={SANS} fontSize={25} fill="#1a1aee">RL</text>
      <text x={258} y={835} fontFamily={SANS} fontSize={25} fill="#ff1a1a">FL</text>
      <text x={148} y={815} fontFamily={SANS} fontSize={26}>(d)</text>
      <text x={82} y={752} fontFamily={SANS} fontSize={34}>α</text>
      <text x={106} y={760} fontFamily={SANS} fontSize={22}>fit</text>
      <text x={353} y={897} textAnchor="middle" fontFamily={SERIF} fontSize={22}>
        <tspan fontStyle="italic">|I</tspan><tspan fontFamily={SANS} fontStyle="italic" fontSize={15} dy={4}>e</tspan><tspan dy={-4}>| (mA)</tspan>
      </text>
    </svg>
  );
}
